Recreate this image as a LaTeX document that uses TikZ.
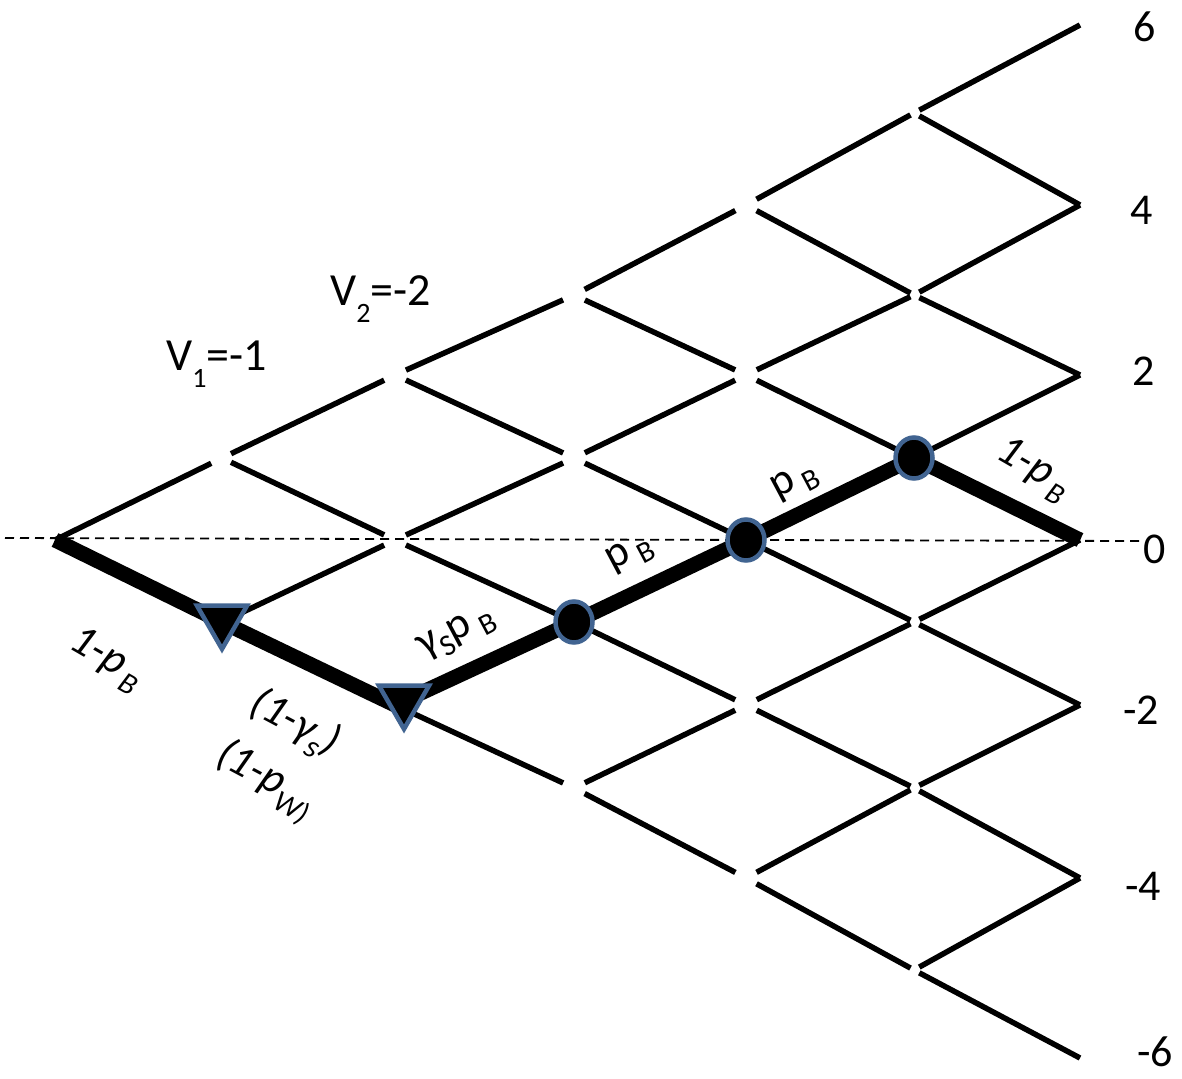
\documentclass[tikz,border=0pt]{standalone}
\usepackage{fontspec}
\setmainfont{Carlito}
\usetikzlibrary{shapes.geometric}
\definecolor{mk}{RGB}{65,100,145}
\newcommand{\lo}[3]{\raisebox{-#1pt}{\fontsize{#2}{#2}\selectfont #3}}
\begin{document}
\begin{tikzpicture}[x=1pt,y=-1pt,
  lat/.style={line width=5.5pt},
  bold path/.style={line width=15pt},
  guide/.style={line width=1.8pt, dash pattern=on 9pt off 6pt},
  trimark/.style={regular polygon, regular polygon sides=3, shape border rotate=180,
    draw=mk, line width=4.5pt, fill=black, minimum size=58pt, inner sep=0pt},
  circmark/.style={ellipse, draw=mk, line width=4.5pt, fill=black,
    minimum width=37pt, minimum height=41pt, inner sep=0pt},
  lab/.style={font=\fontsize{44}{48}\selectfont, inner sep=0pt},
  vlab/.style={font=\fontsize{46}{50}\selectfont, inner sep=0pt, anchor=base west},
  num/.style={font=\fontsize{44}{48}\selectfont, inner sep=0pt}
]
\useasboundingbox (0,0) rectangle (1182,1078);

% lattice points: column i, index j = level + 6
\foreach \i/\xx in {0/55,1/222,2/395,3/574,4/746,5/914,6/1080} {
  \foreach \j/\yy in {0/1058,1/970,2/878,3/788,4/705,5/622,6/540,7/458,8/375,9/295,10/205,11/113,12/25} {
    \coordinate (n\i k\j) at (\xx,\yy);
  }
}

% dashed zero line
\coordinate (dashL) at (5,538);
\coordinate (dashR) at (1140,541);
\draw[guide] (dashL) -- (dashR);

% thin lattice edges
\foreach \i in {0,...,5} {
  \pgfmathtruncatemacro{\ni}{\i+1}
  \pgfmathsetmacro{\go}{{0,10,12,12,12,6}[\i]}
  \pgfmathsetmacro{\gi}{{12,12,12,12,4,0}[\i]}
  \foreach \m in {0,...,\i} {
    \pgfmathtruncatemacro{\j}{6-\i+2*\m}
    \pgfmathtruncatemacro{\ju}{\j+1}
    \pgfmathtruncatemacro{\jd}{\j-1}
    \draw[lat, shorten <=\go pt, shorten >=\gi pt] (n\i k\j) -- (n\ni k\ju);
    \draw[lat, shorten <=\go pt, shorten >=\gi pt] (n\i k\j) -- (n\ni k\jd);
  }
}

% highlighted path
\draw[bold path] (n0k6) -- (n1k5) -- (n2k4) -- (n3k5) -- (n4k6) -- (n5k7) -- (n6k6);

% markers
\node[trimark] (t1) at (222,620) {};
\node[trimark] (t2) at (404,700) {};
\node[circmark] (c1) at (n3k5) {};
\node[circmark] (c2) at (n4k6) {};
\node[circmark] (c3) at (n5k7) {};

% level numbers
\node[num] (l6) at (1145,27) {6};
\node[num] (l4) at (1142,210) {4};
\node[num] (l2) at (1144,371) {2};
\node[num] (l0) at (1155,549) {0};
\node[num] (lm2) at (1141,710) {-2};
\node[num] (lm4) at (1143,886) {-4};
\node[num] (lm6) at (1155,1052) {-6};

% V labels
\node[vlab] (v1) at (166,370) {V\lo{17}{28}{1}=-1};
\node[vlab] (v2) at (330,305) {V\lo{17}{28}{2}=-2};

% edge labels
\node[lab, rotate=-30] (a1) at (106,660) {\itshape 1-p\lo{11}{30}{\,B}};
\node[lab, rotate=-28] (a2) at (294,724) {\itshape (1-γ\lo{11}{32}{s})};
\node[lab, rotate=-28] (a3) at (265,781) {\itshape (1-p\lo{13}{30}{W)}};
\node[lab, rotate=28] (a4) at (457,634) {γ\lo{10}{30}{S}p\,\lo{10}{30}{B}};
\node[lab, rotate=28] (a5) at (630,554) {p\,\lo{10}{30}{B}};
\node[lab, rotate=28] (a6) at (795,482) {p\,\lo{10}{30}{B}};
\node[lab, rotate=-30] (a7) at (1033,470) {\itshape 1-p\lo{11}{30}{\,B}};
\end{tikzpicture}
\end{document}
